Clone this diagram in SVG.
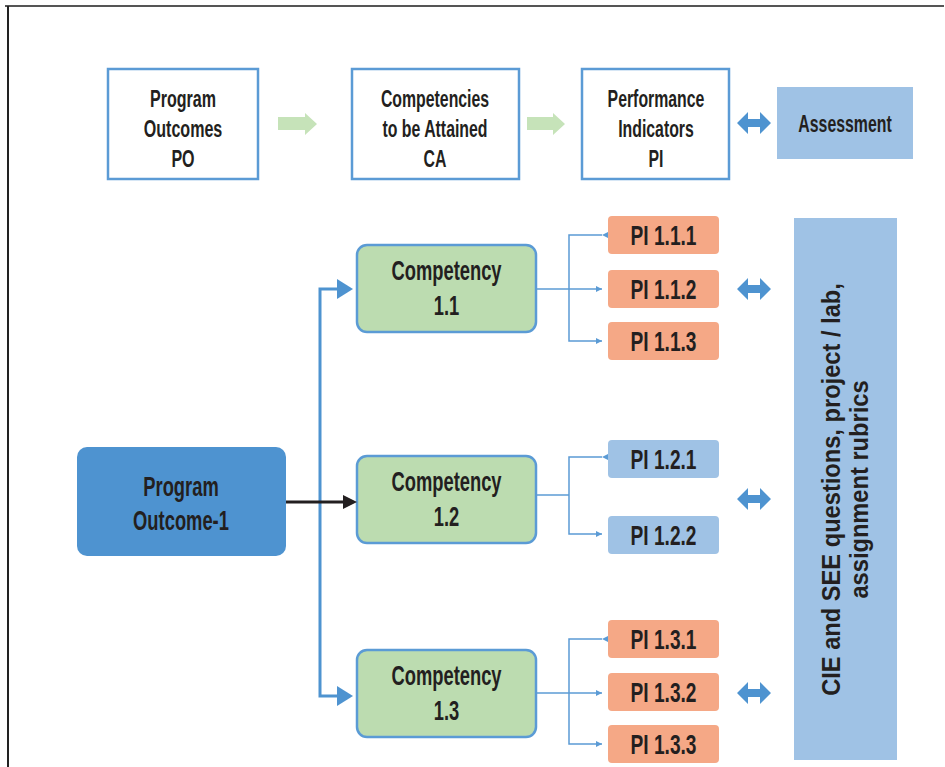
<svg xmlns="http://www.w3.org/2000/svg" width="945" height="767" viewBox="0 0 945 767">
<defs>
<style>
.t{font-family:"Liberation Sans",Arial,sans-serif;font-weight:bold;fill:#231f20;text-anchor:middle}
.s24{font-size:24px}
.s27{font-size:27px}
.top{fill:#ffffff;stroke:#5b9bd5;stroke-width:2.5}
.comp{fill:#bcdcb0;stroke:#5b9bd5;stroke-width:2.5}
.pis{fill:#f5a886}
.pib{fill:#9fc2e5}
.thin{fill:none;stroke:#5b9bd5;stroke-width:1.5}
.main{fill:none;stroke:#4e93d0;stroke-width:3}
.mh{fill:#4e93d0}
.ga{fill:#c6e3b9}
.cie{font-family:"Liberation Sans",Arial,sans-serif;font-weight:bold;font-size:26px;fill:#231f20;text-anchor:middle}
</style>
<marker id="ah" viewBox="0 0 10 10" refX="10" refY="5" markerWidth="6" markerHeight="6" markerUnits="userSpaceOnUse" orient="auto">
<path d="M0,0 L10,5 L0,10 z" fill="#5b9bd5"/>
</marker>
<path id="dbl" d="M0,0 L11,-11 L11,-4 L23,-4 L23,-11 L34,0 L23,11 L23,4 L11,4 L11,11 z" fill="#4e93d0"/>
</defs>
<rect width="945" height="767" fill="#ffffff"/>
<g id="frame">
<line x1="5" y1="6" x2="944" y2="6" stroke="#555" stroke-width="2"/>
<line x1="8" y1="6" x2="8" y2="767" stroke="#222" stroke-width="2"/>
</g>
<g id="po-box"><rect class="top" x="108" y="69" width="150" height="110"/>
<text class="t s24" transform="translate(183,107) scale(0.67,1)">Program</text>
<text class="t s24" transform="translate(183,137) scale(0.67,1)">Outcomes</text>
<text class="t s24" transform="translate(183,167) scale(0.67,1)">PO</text></g>
<g id="ca-box"><rect class="top" x="352" y="69" width="167" height="110"/>
<text class="t s24" transform="translate(435,107) scale(0.66,1)">Competencies</text>
<text class="t s24" transform="translate(435,137) scale(0.66,1)">to be Attained</text>
<text class="t s24" transform="translate(435,167) scale(0.66,1)">CA</text></g>
<g id="pi-box"><rect class="top" x="582" y="69" width="147" height="110"/>
<text class="t s24" transform="translate(656,107) scale(0.66,1)">Performance</text>
<text class="t s24" transform="translate(656,137) scale(0.66,1)">Indicators</text>
<text class="t s24" transform="translate(656,167) scale(0.66,1)">PI</text></g>
<g id="assessment"><rect x="777" y="87" width="136" height="72" fill="#9fc2e5"/>
<text class="t s24" transform="translate(845,132) scale(0.66,1)">Assessment</text></g>
<g id="po1"><rect x="77" y="447" width="209" height="109" rx="10" fill="#4e93d0"/>
<text class="t s27" transform="translate(181,496) scale(0.68,1)">Program</text>
<text class="t s27" transform="translate(181,530) scale(0.68,1)">Outcome-1</text></g>
<g id="comp11"><rect class="comp" x="357" y="245" width="179" height="87" rx="10"/>
<text class="t s27" transform="translate(446.5,280) scale(0.68,1)">Competency</text>
<text class="t s27" transform="translate(446.5,315) scale(0.68,1)">1.1</text></g>
<g id="comp12"><rect class="comp" x="357" y="456" width="179" height="87" rx="10"/>
<text class="t s27" transform="translate(446.5,491) scale(0.68,1)">Competency</text>
<text class="t s27" transform="translate(446.5,526) scale(0.68,1)">1.2</text></g>
<g id="comp13"><rect class="comp" x="357" y="650" width="179" height="87" rx="10"/>
<text class="t s27" transform="translate(446.5,685) scale(0.68,1)">Competency</text>
<text class="t s27" transform="translate(446.5,720) scale(0.68,1)">1.3</text></g>
<g id="pi111"><rect class="pis" x="608" y="216" width="111" height="38" rx="4"/><text class="t s27" transform="translate(663.5,244.5) scale(0.71,1)">PI 1.1.1</text></g>
<g id="pi112"><rect class="pis" x="608" y="270" width="111" height="38" rx="4"/><text class="t s27" transform="translate(663.5,298.5) scale(0.71,1)">PI 1.1.2</text></g>
<g id="pi113"><rect class="pis" x="608" y="322" width="111" height="38" rx="4"/><text class="t s27" transform="translate(663.5,350.5) scale(0.71,1)">PI 1.1.3</text></g>
<g id="pi121"><rect class="pib" x="608" y="440" width="111" height="38" rx="4"/><text class="t s27" transform="translate(663.5,468.5) scale(0.71,1)">PI 1.2.1</text></g>
<g id="pi122"><rect class="pib" x="608" y="516" width="111" height="38" rx="4"/><text class="t s27" transform="translate(663.5,544.5) scale(0.71,1)">PI 1.2.2</text></g>
<g id="pi131"><rect class="pis" x="608" y="620" width="111" height="38" rx="4"/><text class="t s27" transform="translate(663.5,648.5) scale(0.71,1)">PI 1.3.1</text></g>
<g id="pi132"><rect class="pis" x="608" y="673" width="111" height="38" rx="4"/><text class="t s27" transform="translate(663.5,701.5) scale(0.71,1)">PI 1.3.2</text></g>
<g id="pi133"><rect class="pis" x="608" y="725" width="111" height="38" rx="4"/><text class="t s27" transform="translate(663.5,753.5) scale(0.71,1)">PI 1.3.3</text></g>
<g id="cie"><rect x="794" y="218" width="103" height="542" fill="#9fc2e5"/>
<text class="cie" transform="translate(840,489.5) rotate(-90) scale(0.91,1)">CIE and SEE questions, project / lab,</text>
<text class="cie" transform="translate(868,489.5) rotate(-90) scale(0.91,1)">assignment rubrics</text></g>
<g id="connectors">
<path class="ga" d="M278,117 L305,117 L305,113 L317,124 L305,135 L305,130 L278,130 z"/>
<path class="ga" d="M527,117 L553,117 L553,113 L565,124 L553,135 L553,130 L527,130 z"/>
<use href="#dbl" x="737" y="123"/>
<use href="#dbl" x="737" y="289"/>
<use href="#dbl" x="737" y="499"/>
<use href="#dbl" x="737" y="693"/>
<path class="main" d="M339,289 L320,289 L320,696 L339,696"/>
<path class="mh" d="M337,279 L353,289 L337,299 z"/>
<path class="mh" d="M337,686 L353,696 L337,706 z"/>
<line x1="286" y1="502" x2="345" y2="502" stroke="#231f20" stroke-width="3"/>
<path d="M343,495 L357,502 L343,509 z" fill="#231f20"/>
<path class="thin" d="M602,235 L569,235 L569,341 L602,341" marker-start="url(#ah)" marker-end="url(#ah)"/>
<path class="thin" d="M536,289 L602,289" marker-end="url(#ah)"/>
<path class="thin" d="M536,495 L569,495"/>
<path class="thin" d="M602,457 L569,457 L569,534 L602,534" marker-start="url(#ah)" marker-end="url(#ah)"/>
<path class="thin" d="M536,693 L602,693" marker-end="url(#ah)"/>
<path class="thin" d="M602,639 L569,639 L569,744 L602,744" marker-start="url(#ah)" marker-end="url(#ah)"/>
</g>
</svg>
